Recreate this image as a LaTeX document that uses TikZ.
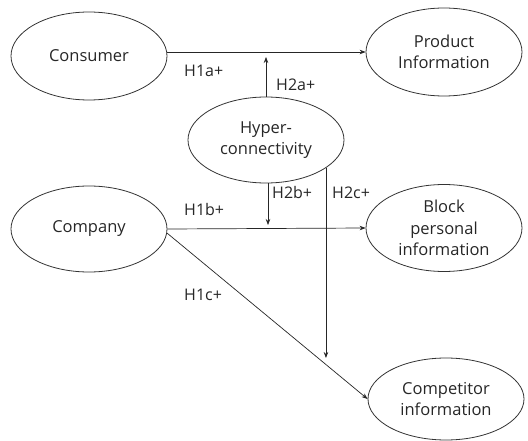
\documentclass[tikz,border=0pt]{standalone}
\usepackage{fontspec}
\setmainfont{Open Sans}
\usetikzlibrary{shapes.geometric,arrows.meta}

\begin{document}
\begin{tikzpicture}[
    x=1pt, y=-1pt,
    % Estilo de los constructos del modelo (elipses)
    constructo/.style={ellipse, draw=black!80, line width=0.8pt, minimum width=156pt, minimum height=88pt,
        inner sep=0pt, align=center, font=\fontsize{16.5}{21.5}\selectfont, text=black!85},
    % Estilo de las hipotesis (flechas) y sus etiquetas
    flecha/.style={-{Stealth[length=6pt,width=4.5pt]}, line width=0.7pt, color=black!85},
    etiqueta/.style={anchor=west, inner sep=0pt, font=\fontsize{16}{18}\selectfont, text=black!85}
]
    \useasboundingbox (0,0) rectangle (528,441);

    % --- CONSTRUCTOS ---
    \node[constructo] (consumer) at (89,56)   {Consumer};
    \node[constructo] (product)  at (444,52)  {Product\\Information};
    \node[constructo, minimum height=86pt] (hyper) at (266,140) {Hyper-\\connectivity};
    \node[constructo, minimum height=86pt] (company) at (89,229) {Company};
    \node[constructo, minimum height=87pt] (block)   at (444,228) {Block\\personal\\information};
    \node[constructo, minimum height=82pt] (competitor) at (446,399) {Competitor\\information};

    % Puntos donde terminan las flechas moderadoras
    \coordinate (h2afin) at (266,57);
    \coordinate (h2bfin) at (268,225);
    \coordinate (h2cfin) at (325,358);

    % --- EFECTOS DIRECTOS (H1) ---
    \draw[flecha] (consumer.east |- product.west) -- (product.west);
    \draw[flecha] (company.east) -- (block.west);
    \draw[flecha] (company.-3) -- (competitor.west);

    % --- EFECTOS MODERADORES (H2) ---
    \draw[flecha] (hyper.north) -- (h2afin);
    \draw[flecha] (hyper.south -| h2bfin) -- (h2bfin);
    \draw[flecha] (hyper.-25) -- (hyper.-25 |- h2cfin);

    % --- ETIQUETAS ---
    \node[etiqueta] (l1a) at (184,71)  {H1a+};
    \node[etiqueta] (l2a) at (276,85)  {H2a+};
    \node[etiqueta] (l1b) at (184,210) {H1b+};
    \node[etiqueta] (l2b) at (272,193) {H2b+};
    \node[etiqueta] (l2c) at (332,193) {H2c+};
    \node[etiqueta] (l1c) at (184,295) {H1c+};

\end{tikzpicture}
\end{document}
